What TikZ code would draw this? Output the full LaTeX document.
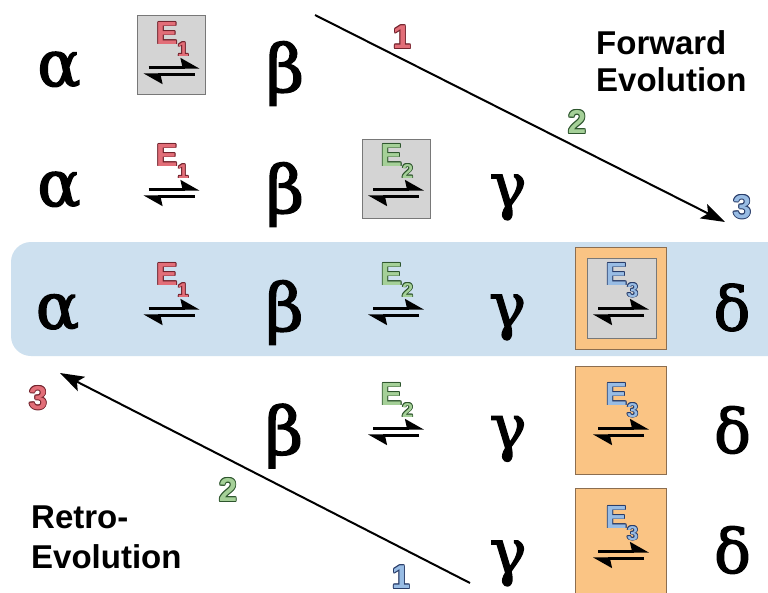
\documentclass[tikz,border=0pt]{standalone}
\usepackage{fontspec}
\setmainfont{Liberation Sans}
\newfontfamily\gserif[FakeBold=2.2]{DejaVu Serif}
\usetikzlibrary{arrows.meta}
\definecolor{redF}{RGB}{226,110,120}
\definecolor{redL}{RGB}{115,35,45}
\definecolor{grnF}{RGB}{165,208,152}
\definecolor{grnL}{RGB}{45,85,45}
\definecolor{bluF}{RGB}{152,188,228}
\definecolor{bluL}{RGB}{40,60,105}
\definecolor{boxgray}{RGB}{212,212,212}
\definecolor{boxline}{RGB}{120,120,120}
\definecolor{orng}{RGB}{250,196,132}
\definecolor{orngline}{RGB}{140,110,80}
\definecolor{bandblue}{RGB}{205,224,239}
\newcommand\olcp[2]{\rlap{\kern#1\raise#2\copy0}}
\newcommand\outl[3]{\begingroup\setbox0=\hbox{#3}%
\color{#2}\olcp{-.9pt}{0pt}\olcp{.9pt}{0pt}\olcp{0pt}{.9pt}\olcp{0pt}{-.9pt}%
\olcp{-.65pt}{.65pt}\olcp{.65pt}{.65pt}\olcp{-.65pt}{-.65pt}\olcp{.65pt}{-.65pt}%
\color{#1}\box0\endgroup}
\tikzset{
  greek/.style={inner sep=0pt},
  gal/.style={greek, font=\gserif\fontsize{64}{64}\selectfont},
  gbe/.style={greek, font=\gserif\fontsize{66}{66}\selectfont},
  gga/.style={greek, font=\gserif\fontsize{62}{62}\selectfont},
  gde/.style={greek, font=\gserif\fontsize{61}{61}\selectfont},
  harp/.style={line width=2.2pt, -{Stealth[harpoon,length=17pt,width=19pt,inset=2pt]}},
  graybox/.style={draw=boxline, fill=boxgray, line width=0.8pt, minimum width=69pt, minimum height=80pt, inner sep=0pt},
  orbox/.style={draw=orngline, fill=orng, line width=0.8pt, minimum width=91pt, minimum height=106pt, inner sep=0pt},
  evo/.style={line width=2pt, -{Stealth[length=24pt,width=16pt,inset=5pt]}},
  lab/.style={font=\bfseries\fontsize{33}{33}\selectfont, inner sep=0pt, anchor=base west},
  num/.style={font=\bfseries\fontsize{33}{33}\selectfont, inner sep=0pt},
  pics/eqr/.style n args={3}{code={
    \coordinate (-t1) at (-23,-18.5);
    \coordinate (-t2) at (28,-18.5);
    \coordinate (-b1) at (23,-11.5);
    \coordinate (-b2) at (-28,-11.5);
    \draw[harp] (-t1) -- (-t2);
    \draw[harp] (-b1) -- (-b2);
    \node[inner sep=0pt, anchor=base west, font=\bfseries\fontsize{32}{32}\selectfont] (-E) at (-15.5,-42)
      {\outl{#1}{#2}{E}\raisebox{-12pt}{\fontsize{20}{20}\selectfont\outl{#1}{#2}{#3}}};
  }}
}
\begin{document}
\begin{tikzpicture}[x=1pt,y=-1pt]
\useasboundingbox (0,0) rectangle (768,592);
\clip (0,0) rectangle (768,592);
\fill[white] (0,0) rectangle (768,592);
% band
\fill[bandblue, rounded corners=20pt] (11,242) rectangle (800,356);
% boxes
\node[graybox, minimum width=68pt, minimum height=79pt] (box1) at (171,54.5) {};
\node[graybox, minimum width=68pt, minimum height=79pt] (box2) at (396,178.5) {};
\node[orbox, minimum height=102pt] (box3o) at (621,298) {};
\node[graybox] (box3i) at (621.5,298.5) {};
\node[orbox, minimum height=108pt] (box4) at (620.5,420) {};
\node[orbox, minimum height=108pt] (box5) at (620.5,542) {};
% equilibrium arrows
\pic (r1a) at (171.5,86) {eqr={redF}{redL}{1}};
\pic (r2a) at (171.5,208) {eqr={redF}{redL}{1}};
\pic (r2b) at (396,208) {eqr={grnF}{grnL}{2}};
\pic (r3a) at (171.5,327) {eqr={redF}{redL}{1}};
\pic (r3b) at (396,327) {eqr={grnF}{grnL}{2}};
\pic (r3c) at (621,327) {eqr={bluF}{bluL}{3}};
\pic (r4b) at (396,447) {eqr={grnF}{grnL}{2}};
\pic (r4c) at (621,447) {eqr={bluF}{bluL}{3}};
\pic (r5c) at (621,570) {eqr={bluF}{bluL}{3}};
% greek letters
\node[gal] (a1) at (59,70) {α};
\node[gbe] (b1) at (285,73.5) {β};
\node[gal] (a2) at (59,190) {α};
\node[gbe] (b2) at (285,194.5) {β};
\node[gga] (c2) at (508,197.5) {γ};
\node[gal] (a3) at (57.5,312.5) {α};
\node[gbe] (b3) at (284.5,312.5) {β};
\node[gga] (c3) at (507.5,317.5) {γ};
\node[gde] (d3) at (732,307.5) {δ};
\node[gbe] (b4) at (284,436) {β};
\node[gga] (c4) at (508,439) {γ};
\node[gde] (d4) at (732.5,430) {δ};
\node[gga] (c5) at (508,563.5) {γ};
\node[gde] (d5) at (732.5,550) {δ};
% evolution arrows
\coordinate (fs) at (315,15);
\coordinate (fe) at (725,222);
\draw[evo] (fs) -- (fe);
\coordinate (rs) at (470,583);
\coordinate (re) at (60,373);
\draw[evo] (rs) -- (re);
% numbers
\node[num] (f1) at (402,37) {\outl{redF}{redL}{1}};
\node[num] (f2) at (577,122) {\outl{grnF}{grnL}{2}};
\node[num] (f3) at (742,207) {\outl{bluF}{bluL}{3}};
\node[num] (g3) at (38,398) {\outl{redF}{redL}{3}};
\node[num] (g2) at (228,490) {\outl{grnF}{grnL}{2}};
\node[num] (g1) at (401,577) {\outl{bluF}{bluL}{1}};
% captions
\node[lab] (fw1) at (596,54) {Forward};
\node[lab] (fw2) at (596,91) {Evolution};
\node[lab] (rt1) at (31,528) {Retro-};
\node[lab] (rt2) at (31,568) {Evolution};
\end{tikzpicture}
\end{document}
